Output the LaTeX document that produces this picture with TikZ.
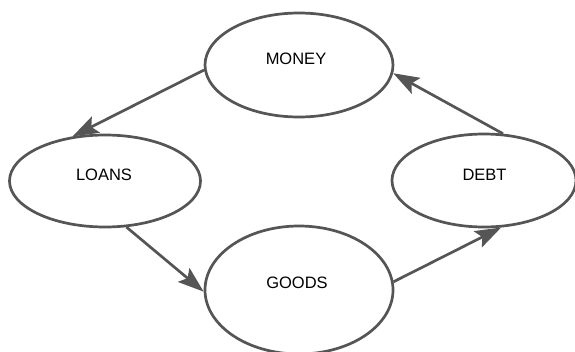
\documentclass[tikz,border=0pt]{standalone}
\usepackage{fontspec}
\setmainfont{Liberation Sans}
\usetikzlibrary{shapes.geometric,arrows.meta}
\definecolor{edgegray}{HTML}{555555}
\begin{document}
\begin{tikzpicture}[x=1pt,y=-1pt,
  oval/.style={ellipse, draw=edgegray, line width=2.7pt, fill=white, inner sep=0pt},
  lbl/.style={font=\fontsize{16.5}{18}\selectfont, text=black},
  link/.style={draw=edgegray, line width=2.7pt, -{Stealth[length=26pt,width=18pt,inset=5pt]}}]
\useasboundingbox (0,0) rectangle (575,351);
\node[oval, minimum width=188pt, minimum height=104pt] (money) at (299,65) {};
\node[oval, minimum width=191pt, minimum height=92pt] (loans) at (105,181) {};
\node[oval, minimum width=184pt, minimum height=93pt] (debt) at (484,180.5) {};
\node[oval, minimum width=188pt, minimum height=128pt] (goods) at (299,290) {};
\node[lbl] (tmoney) at (296,59) {MONEY};
\node[lbl] (tloans) at (104,175) {LOANS};
\node[lbl] (tdebt) at (484.5,175) {DEBT};
\node[lbl] (tgoods) at (297,283) {GOODS};
\draw[link] (money.183) -- (loans.126);
\draw[link] (loans.295.6) -- (goods.181);
\draw[link] (goods.5) -- (debt.290.5);
\draw[link] (debt.68.8) -- (money.355.7);
\end{tikzpicture}
\end{document}
